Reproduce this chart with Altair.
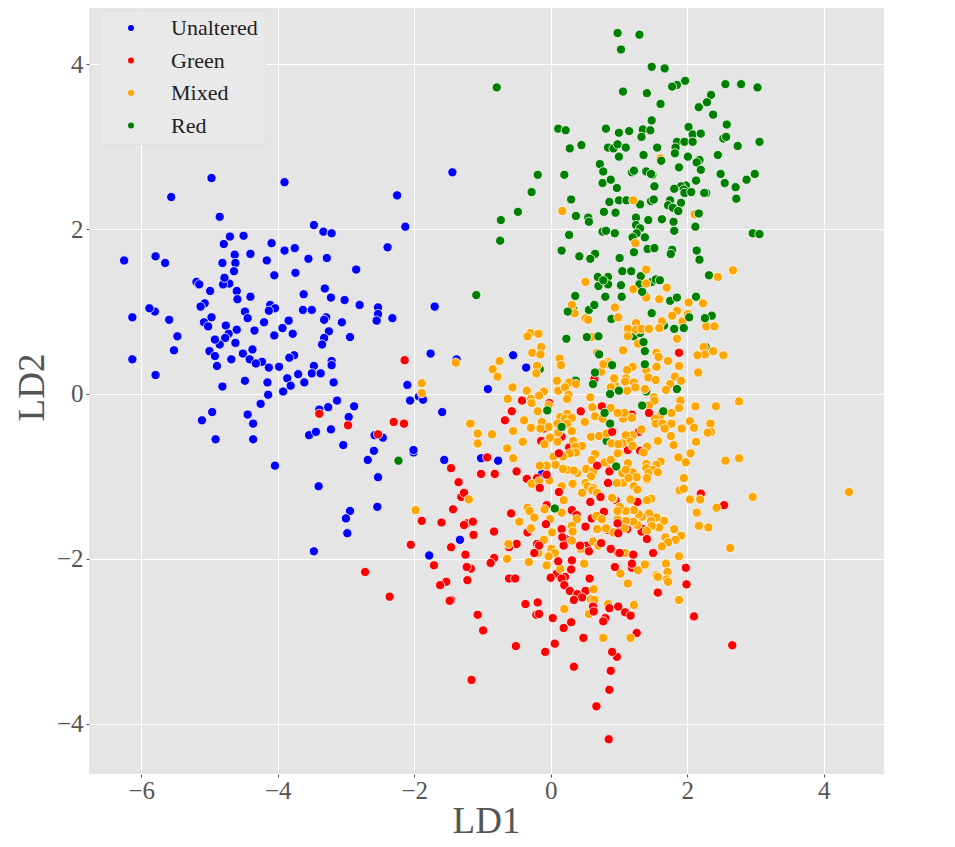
import altair as alt
import pandas as pd

unaltered = [
(-4.97,2.62),(-3.90,2.57),(-5.56,2.39),(-4.85,2.15),(-4.70,1.91),(-4.50,1.92),(-4.79,1.82),(-4.09,1.83),(-3.90,1.74),(-3.75,1.77),
(-6.25,1.62),(-5.79,1.67),(-5.65,1.59),(-4.63,1.69),(-4.40,1.70),(-4.81,1.59),(-4.62,1.59),(-4.16,1.62),(-4.64,1.49),(-4.05,1.44),
(-3.74,1.47),(-4.71,1.34),(-4.80,1.33),(-4.78,1.41),(-5.19,1.36),(-5.15,1.33),(-4.99,1.25),(-4.60,1.25),(-4.59,1.15),(-4.40,1.18),
(-5.07,1.10),(-5.13,1.06),(-4.11,1.08),(-4.04,1.04),(-5.80,1.00),(-5.88,1.04),(-6.13,0.93),(-5.59,0.90),(-5.47,0.70),(-5.52,0.53),
(-6.13,0.42),(-5.79,0.23),(-4.48,1.00),(-4.44,0.92),(-4.13,1.01),(-4.97,0.93),(-5.08,0.87),(-5.02,0.82),(-4.76,0.83),(-4.20,0.87),
(-3.84,0.89),(-3.93,0.80),(-4.60,0.78),(-4.34,0.77),(-4.72,0.73),(-4.77,0.68),(-4.05,0.71),(-3.78,0.73),(-4.85,0.60),(-4.92,0.66),
(-4.62,0.62),(-5.00,0.52),(-4.37,0.54),(-4.92,0.46),(-4.51,0.49),(-4.68,0.42),(-4.41,0.42),(-4.23,0.39),(-4.32,0.37),(-4.89,0.34),
(-4.13,0.32),(-3.98,0.33),(-3.76,0.47),(-3.83,0.44),(-3.70,0.24),(-3.86,0.19),(-3.81,0.10),(-3.92,0.03),(-4.15,0.14),(-4.48,0.16),
(-4.81,0.09),(-4.14,-0.01),(-4.25,-0.12),(-4.96,-0.22),(-5.11,-0.32),(-4.44,-0.25),(-4.36,-0.36),(-4.91,-0.55),(-4.36,-0.55),(-4.04,-0.87),
(-1.44,2.69),(-2.25,2.41),(-3.47,2.05),(-3.33,1.97),(-3.21,1.95),(-2.13,2.03),(-2.39,1.78),(-3.55,1.64),(-3.28,1.65),(-2.85,1.51),
(-3.31,1.28),(-3.62,1.21),(-3.22,1.17),(-3.02,1.14),(-2.80,1.08),(-3.63,1.02),(-3.50,1.02),(-3.29,0.93),(-3.32,0.90),(-3.06,0.87),
(-2.53,1.05),(-2.53,0.97),(-2.55,0.89),(-2.32,0.92),(-1.70,1.06),(-3.25,0.76),(-2.94,0.69),(-3.32,0.68),(-3.35,0.60),(-1.76,0.49),
(-1.38,0.42),(-3.21,0.40),(-3.21,0.35),(-3.47,0.34),(-3.50,0.25),(-3.37,0.25),(-3.61,0.14),(-3.18,0.14),(-2.10,0.11),(-0.92,0.06),
(-2.06,-0.08),(-1.93,-0.03),(-1.87,-0.07),(-3.13,-0.08),(-3.39,-0.19),(-3.26,-0.16),(-2.88,-0.15),(-1.59,-0.22),(-2.96,-0.28),(-3.54,-0.50),
(-3.44,-0.46),(-3.22,-0.43),(-2.58,-0.50),(-2.46,-0.53),(-3.04,-0.62),(-2.59,-0.69),(-2.01,-0.71),(-2.01,-0.68),(-2.68,-0.80),(-1.56,-0.80),
(-1.02,-0.78),(-0.77,-0.81),(-2.53,-1.01),(-3.40,-1.12),(-2.54,-1.37),(-2.94,-1.42),(-3.00,-1.51),(-2.98,-1.69),(-3.47,-1.91),(-1.33,-1.77),
(-1.78,-1.96),(-0.55,0.47),(-0.36,0.32),(-0.13,-0.97),
]

green = [
(-2.14,0.41),(-3.39,-0.24),(-2.97,-0.38),(-2.30,-0.34),(-2.15,-0.36),(-2.53,-0.49),(-0.93,-0.77),(-1.46,-0.90),(-1.02,-0.97),(-0.82,-0.97),
(-1.35,-1.07),(-1.31,-1.25),(-1.27,-1.20),(-1.43,-1.40),(-1.89,-1.54),(-1.60,-1.56),(-1.23,-1.57),(-1.27,-1.59),(-1.14,-1.55),(-1.13,-1.71),
(-0.83,-1.67),(-2.05,-1.83),(-1.46,-1.86),(-1.25,-1.95),(-0.83,-1.99),(-0.88,-2.05),(-1.71,-2.08),(-1.17,-2.12),(-1.23,-2.10),(-2.72,-2.16),
(-1.22,-2.26),(-1.53,-2.28),(-1.62,-2.32),(-2.36,-2.46),(-1.46,-2.50),(-1.48,-2.51),
(0.64,0.18),(-0.42,-0.08),(-0.02,-0.11),(-0.57,-0.21),(-0.67,-0.32),(0.44,-0.21),(0.75,-0.15),(-0.10,-0.42),(0.90,-0.46),(-0.14,-0.57),
(0.16,-0.52),(0.27,-0.65),(0.12,-0.72),(-0.50,-0.94),(-0.35,-1.03),(-0.20,-1.02),(-0.06,-0.98),(-0.16,-1.14),(0.68,-0.87),(0.86,-0.94),
(0.84,-1.08),(1.88,0.50),(1.44,-0.23),(1.19,-0.25),(1.29,-0.46),(1.13,-0.68),(1.31,-0.69),
(0.12,-1.19),(0.58,-1.31),(0.73,-1.25),(-0.06,-1.35),(-0.58,-1.45),(0.31,-1.41),(0.38,-1.47),(0.78,-1.43),(0.95,-1.29),(0.60,-1.51),
(-0.34,-1.68),(-0.07,-1.58),(0.16,-1.64),(0.51,-1.61),(0.84,-1.65),(0.17,-1.74),(0.22,-1.76),(0.99,-1.67),(-0.50,-1.82),(-0.61,-1.86),
(-0.20,-1.82),(-0.17,-1.84),(0.19,-1.84),(0.43,-1.84),(0.74,-1.81),(0.53,-1.84),(0.56,-1.91),(0.88,-1.88),(0.99,-1.93),(-0.24,-1.93),
(0.11,-2.03),(0.31,-2.02),(0.30,-2.13),(0.94,-2.10),(0.09,-2.18),(0.00,-2.23),(0.21,-2.22),(0.16,-2.24),(-0.61,-2.24),(-0.52,-2.24),
(0.57,-2.24),(0.20,-2.32),(0.28,-2.39),(0.51,-2.39),(0.39,-2.43),(0.46,-2.47),(0.34,-2.50),(0.62,-2.58),(0.63,-2.64),(0.86,-2.60),
(0.99,-2.58),(-0.37,-2.55),(-0.19,-2.53),(-0.21,-2.68),(-0.17,-2.67),(0.03,-2.72),(-1.07,-2.68),(0.30,-2.77),(0.19,-2.84),(0.80,-2.72),
(0.77,-2.76),(-0.99,-2.87),(-0.51,-3.06),(-0.08,-3.13),(0.06,-3.03),(0.48,-2.96),(1.26,-2.90),(0.97,-3.19),(0.90,-3.13),(0.34,-3.31),
(0.88,-3.36),(0.86,-3.59),(0.67,-3.79),(0.85,-4.19),(-1.16,-3.47),(2.66,-3.05),
(2.20,-1.21),(2.54,-1.35),(1.27,-1.31),(0.98,-1.57),(1.12,-1.64),(0.99,-1.69),(1.35,-1.64),(1.33,-1.67),(1.41,-1.76),(1.01,-1.93),
(1.21,-1.95),(1.50,-1.93),(1.19,-2.06),(1.19,-2.11),(1.98,-2.11),(1.99,-2.31),(1.57,-2.41),(1.09,-2.65),(1.17,-2.69),(2.10,-2.70),
]

red = [
(0.98,4.38),(1.30,4.36),(1.03,4.18),(1.48,3.97),(1.67,3.95),(1.97,3.80),(1.85,3.75),(1.78,3.73),(-0.79,3.72),(1.06,3.67),
(1.41,3.65),(2.56,3.76),(2.79,3.76),(3.03,3.72),(2.35,3.63),(2.29,3.54),(2.17,3.48),(1.61,3.52),(2.38,3.39),(1.48,3.32),
(2.58,3.27),(2.02,3.24),(0.11,3.22),(0.22,3.20),(0.81,3.22),(1.00,3.17),(1.15,3.19),(1.35,3.21),(1.46,3.20),(1.33,3.12),
(2.08,3.15),(2.20,3.16),(2.53,3.10),(2.57,3.12),(3.06,3.06),(2.74,3.01),(1.85,3.06),(1.96,3.06),(2.08,3.06),(1.83,2.99),
(1.82,2.92),(1.56,2.99),(0.45,3.02),(0.28,2.98),(0.84,2.99),(0.92,2.98),(0.98,3.03),(1.10,2.99),(1.00,2.88),(1.36,2.90),
(2.01,2.88),(2.45,2.90),(2.18,2.84),(2.14,2.81),(1.62,2.83),(0.72,2.79),(1.88,2.75),(2.20,2.72),(1.19,2.69),(1.22,2.71),
(0.77,2.70),(1.40,2.70),(1.49,2.66),(1.47,2.67),(-0.19,2.66),(0.20,2.66),(2.49,2.67),(2.99,2.67),(2.87,2.60),(2.13,2.59),
(2.55,2.56),(0.76,2.56),(0.88,2.60),(2.71,2.51),(1.52,2.52),(0.97,2.50),(1.98,2.53),(1.91,2.52),(1.81,2.49),(1.95,2.48),
(1.96,2.44),(2.06,2.45),(2.28,2.44),(2.25,2.44),(-0.28,2.45),(2.72,2.37),(0.30,2.36),(0.86,2.33),(1.00,2.35),(1.11,2.35),
(1.31,2.30),(1.47,2.34),(1.51,2.36),(1.75,2.35),(1.72,2.29),(1.91,2.32),(1.79,2.26),(1.87,2.22),(-0.48,2.21),(0.78,2.21),
(0.95,2.20),(2.17,2.19),(-0.73,2.11),(0.37,2.16),(0.55,2.14),(0.56,2.09),(1.25,2.14),(1.43,2.11),(1.63,2.12),(1.80,2.09),
(1.81,1.98),(2.12,2.03),(1.25,2.05),(1.31,2.01),(1.26,1.95),(1.20,1.90),(1.38,1.90),(0.94,1.95),(0.76,1.97),(0.81,1.98),
(0.27,1.93),(2.96,1.95),(3.06,1.94),(0.16,1.74),(0.42,1.67),(0.65,1.70),(0.58,1.64),(1.01,1.65),(1.22,1.72),(1.42,1.76),
(1.52,1.77),(1.78,1.75),(1.76,1.70),(2.14,1.74),(2.18,1.63),(1.05,1.49),(1.18,1.49),(2.32,1.44),(1.32,1.43),(0.69,1.42),
(0.84,1.42),(0.70,1.31),(0.84,1.33),(0.77,1.38),(1.03,1.32),(1.30,1.33),(1.48,1.36),(1.54,1.39),(1.60,1.38),(1.34,1.24),
(1.39,1.19),(0.36,1.19),(0.80,1.18),(1.04,1.18),(1.85,1.17),(1.75,1.13),(2.13,1.18),(0.64,1.08),(0.56,1.02),(0.33,1.03),
(0.25,1.00),(1.48,0.98),(2.03,0.93),(2.36,0.95),(2.26,0.92),(0.89,0.91),(1.66,0.83),(1.81,0.79),(1.95,0.80),(0.23,0.67),
(0.53,0.69),(0.70,0.70),(1.22,0.70),(1.31,0.74),(1.36,0.63),(1.38,0.52),(0.71,0.48),(2.27,0.57),(0.90,0.35),(1.38,0.36),
(0.66,0.25),(-0.16,0.30),(0.36,0.17),(0.65,0.26),(0.37,0.16),(0.62,0.12),(0.87,0.00),(1.00,0.04),(-0.05,-0.20),(0.79,-0.23),
(0.87,-0.36),(0.16,-0.40),(0.82,-0.57),(0.96,-0.88),(1.85,0.06),(1.34,-0.14),(1.65,-0.21),(1.40,0.03),(0.06,-1.39),(-2.23,-0.81),
(-1.09,1.20),(-0.74,1.86),
]

mixed = [
(2.96,-1.25),(4.37,-1.19),(1.89,-1.17),(1.95,-1.15),(2.04,-1.28),(2.19,-1.28),(2.43,-1.38),(2.14,-1.44),(2.17,-1.60),(2.31,-1.62),
(2.63,-1.87),(1.81,-1.64),(1.91,-1.72),(1.83,-1.77),(1.68,-1.74),(1.72,-1.80),(1.63,-1.85),(1.88,-1.97),(1.69,-2.06),(1.71,-2.16),
(1.55,-2.20),(1.57,-2.22),(1.70,-2.25),(1.72,-2.28),(1.38,-2.07),(1.28,-2.14),(1.02,-2.18),(1.13,-2.30),(1.88,-2.50),(1.22,-2.56),
(1.09,-1.93),(1.66,-1.54),(1.59,-1.62),(1.55,-1.50),(1.44,-1.45),(1.47,-1.54),(1.48,-1.60),(1.34,-1.49),(1.29,-1.46),(1.22,-1.41),
(1.27,-1.59),(1.21,-1.55),(1.10,-1.54),(1.08,-1.63),(1.10,-1.42),(1.01,-1.37),(0.97,-1.42),(1.41,-1.66),(0.93,-1.68),(0.98,-1.52),
(1.17,-1.28),(1.47,-1.27),(1.41,-1.29),(0.91,-1.27),(1.22,-1.12),(1.27,-1.16),(0.98,-1.08),(1.06,-1.08),(1.41,-1.04),
(1.06,0.53),(1.55,0.50),(1.58,0.45),(2.24,0.57),(2.26,0.48),(2.15,0.47),(2.38,0.52),(2.53,0.47),(1.72,0.40),(1.88,0.34),
(2.16,0.26),(1.20,0.33),(1.12,0.29),(1.55,0.33),(1.40,0.29),(1.43,0.20),(1.54,0.17),(1.82,0.21),(1.91,0.16),(1.75,0.12),
(1.69,0.05),(1.10,0.19),(1.09,0.15),(1.22,0.14),(1.24,0.08),(0.92,0.19),(0.94,0.11),(0.89,0.09),(1.12,0.04),(1.38,0.06),
(1.51,-0.04),(1.52,-0.08),(1.44,-0.14),(1.90,-0.08),(1.88,-0.17),(2.12,-0.15),(2.42,-0.15),(2.76,-0.09),(1.77,-0.23),(1.60,-0.27),
(1.53,-0.30),(1.54,-0.36),(1.64,-0.36),(1.77,-0.36),(1.67,-0.42),(1.92,-0.42),(2.04,-0.33),(2.10,-0.41),(2.34,-0.36),(2.35,-0.46),
(2.30,-0.47),(1.76,-0.51),(1.57,-0.57),(1.80,-0.62),(2.13,-0.58),(1.41,-0.64),(1.33,-0.43),(1.20,-0.50),(1.10,-0.50),(1.16,-0.58),
(1.20,-0.63),(1.05,-0.60),(0.89,-0.60),(1.00,-0.72),(1.36,-0.71),(1.19,-0.29),(1.06,-0.30),(0.99,-0.23),(1.08,-0.23),(0.88,-0.17),
(2.05,-0.72),(1.87,-0.77),(1.98,-0.83),(2.56,-0.81),(2.76,-0.78),(1.95,-1.02),(1.61,-0.82),(1.55,-0.86),(1.40,-0.85),(1.40,-0.90),
(1.50,-0.92),(1.57,-0.95),(1.43,-0.96),(1.41,-1.02),(1.13,-0.84),(1.20,-0.95),(1.05,-0.96),(1.10,-0.92),(1.26,-1.01),(1.14,-1.02),
(0.87,-0.82),
(-0.14,0.57),(-0.27,0.50),(-0.15,0.48),(0.13,0.43),(0.15,0.35),(-0.75,0.40),(-0.85,0.30),(-0.78,0.21),(-0.20,0.34),(-0.21,0.25),
(-0.56,0.08),(-0.35,0.04),(-0.63,-0.06),(-0.10,0.03),(-0.17,-0.02),(-0.29,-0.06),(-0.28,-0.11),(-0.03,-0.14),(-0.19,-0.21),(0.09,0.16),
(0.11,0.04),(0.27,0.14),(0.21,0.08),(0.37,0.12),(0.26,-0.01),(0.24,-0.06),(0.58,-0.04),(0.84,0.39),(0.83,0.36),(0.74,0.27),
(0.68,0.50),(0.93,0.19),(0.88,0.08),(0.61,-0.16),(0.65,-0.27),(0.76,-0.30),(0.98,-0.23),(0.50,-0.34),(0.24,-0.24),(0.14,-0.28),
(0.21,-0.30),(0.31,-0.29),(0.10,-0.36),(0.24,-0.36),(-0.39,-0.32),(-0.13,-0.34),(-0.03,-0.40),(-0.29,-0.41),(-0.15,-0.42),(-1.16,-0.36),
(-0.55,-0.45),(-1.06,-0.48),(-0.86,-0.49),(-1.07,-0.61),(-0.41,-0.58),(0.31,-0.45),(0.11,-0.47),(-0.01,-0.53),(0.10,-0.58),(-0.09,-0.61),
(0.33,-0.57),(0.59,-0.52),(0.46,-0.63),(0.71,-0.51),(0.82,-0.48),(0.36,-0.64),(0.37,-0.71),(0.28,-0.72),(-0.64,-0.66),(-0.55,-0.78),
(0.65,-0.73),(0.60,-0.80),(0.18,-0.76),(0.04,-0.76),(0.07,-0.86),(-0.06,-0.87),(-0.16,-0.87),(0.24,-0.92),(0.18,-0.91),(0.39,-0.96),
(0.34,-0.93),(0.52,-0.91),(0.62,-0.94),(0.59,-1.00),(0.82,-0.84),(0.79,-0.83),(0.88,-0.80),(0.98,-0.72),(0.99,-0.61),(-0.02,-1.05),
(-0.28,-1.09),(-0.17,-1.06),(0.16,-1.12),(0.32,-1.09),(0.51,-1.08),(0.54,-1.12),(0.97,-1.08),(0.62,-1.14),
(0.46,-1.20),(0.61,-1.17),(0.68,-1.20),(0.19,-1.29),(0.90,-1.26),(-0.34,-1.38),(-0.31,-1.42),(-0.09,-1.40),(-0.24,-1.50),(-0.46,-1.55),
(0.16,-1.44),(-0.01,-1.52),(0.38,-1.52),(0.67,-1.48),(0.75,-1.52),(0.98,-1.42),(0.31,-1.60),(-0.29,-1.63),(0.02,-1.68),(0.32,-1.67),
(0.68,-1.64),(0.81,-1.63),(0.92,-1.68),(-0.10,-1.77),(-0.62,-1.82),(0.31,-1.78),(0.62,-1.79),(0.70,-1.84),(0.44,-1.88),(0.01,-1.88),
(0.06,-1.93),(-0.03,-1.97),(-0.18,-1.93),(-0.64,-2.00),(-0.32,-2.04),(-0.06,-2.08),(0.49,-2.06),(0.14,-2.12),(0.63,-2.37),(0.59,-2.49),
(0.64,-2.50),(0.84,-2.55),(0.56,-2.67),(0.20,-2.61),(0.77,-2.96),(1.17,-2.96),
(-1.39,0.38),(-1.89,0.13),(-1.89,0.01),(-1.18,-0.36),(-1.07,-0.48),(-1.07,-0.60),(-1.20,-1.28),(-1.98,-1.41),
(0.17,2.22),(2.11,2.18),(1.24,1.83),(1.40,1.51),(2.67,1.50),(2.45,1.42),(0.51,1.36),(1.40,1.34),(1.21,1.27),(1.70,1.29),
(1.59,1.15),(1.40,1.17),(2.02,1.11),(2.23,1.10),(0.31,1.08),(0.94,1.05),(0.35,0.98),(1.85,1.01),(1.78,0.95),(2.01,0.97),
(0.99,0.93),(0.51,0.92),(0.55,0.90),(1.63,0.88),(1.93,0.88),(1.25,0.86),(1.13,0.79),(1.25,0.78),(1.33,0.79),(1.44,0.79),
(1.59,0.80),(2.28,0.82),(2.40,0.82),(1.13,0.70),(1.85,0.67),(0.60,0.69),(1.28,0.61),(-0.30,0.74),(-0.34,0.70),
(-0.18,0.73),(0.77,0.36),(1.61,2.86),(1.21,2.35),
]

# points that sit above the orange ones in the reference's drawing order
green_on_top = [
(0.64,0.18),(1.44,-0.23),(0.90,-0.46),(0.12,-0.72),(-0.06,-0.98),(-0.16,-1.14),(0.68,-0.87),(0.86,-0.94),(0.84,-1.08),
(0.12,-1.19),(0.58,-1.31),(0.73,-1.25),(-0.07,-1.58),(0.16,-1.64),(0.51,-1.61),(0.17,-1.74),(0.74,-1.81),(0.43,-1.84),
(0.56,-1.91),(0.88,-1.88),(0.19,-1.84),(-0.17,-1.84),(-0.24,-1.93),(0.11,-2.03),(0.31,-2.02),(0.94,-2.10),(0.30,-2.13),
(0.62,-2.58),(0.63,-2.64),(0.86,-2.60),(0.99,-2.58),(0.98,-1.57),(0.99,-1.69),(1.41,-1.76),(1.01,-1.93),(1.21,-1.95),
(1.50,-1.93),(1.19,-2.06),
]
red_on_top = [
(-0.05,-0.20),(0.79,-0.23),(0.87,-0.36),(0.16,-0.40),(0.96,-0.88),(1.85,0.06),(1.34,-0.14),(1.65,-0.21),(0.87,0.00),
(0.62,0.12),(0.65,0.26),(0.70,0.70),(0.71,0.48),(1.38,0.52),(1.36,0.63),(1.38,0.36),(0.90,0.35),(0.23,0.67),(0.53,0.69),
(0.06,-1.39),(1.00,0.04),(1.34,1.24),(0.25,1.00),(0.56,1.02),(0.64,1.08),(2.03,0.93),(2.26,0.92),(1.75,1.13),(1.85,1.17),
(2.13,1.18),(1.81,0.79),(1.95,0.80),(2.17,2.19),(1.62,2.83),
]

x_ticks = [-6, -4, -2, 0, 2, 4]
y_ticks = [-4, -2, 0, 2, 4]
names = ["Unaltered", "Green", "Mixed", "Red"]
colors = ["#0000ff", "#ff0000", "#ffa500", "#008000"]

rows = []
series = [("Unaltered", unaltered),
          ("Green", [p for p in green if p not in green_on_top]),
          ("Red", [p for p in red if p not in red_on_top]),
          ("Mixed", mixed),
          ("Green", green_on_top),
          ("Red", red_on_top)]
for name, pts in series:
    rows += [{"LD1": a, "LD2": b, "group": name} for a, b in pts]
df = pd.DataFrame(rows)

serif = "Liberation Serif"
chart = (
    alt.Chart(df)
    .mark_circle(size=85, opacity=1, stroke="white", strokeWidth=0.8)
    .encode(
        x=alt.X("LD1:Q", scale=alt.Scale(domain=[-6.765, 4.884], nice=False, zero=False),
                axis=alt.Axis(values=x_ticks, title="LD1", titleFontSize=37, titleY=29,
                              titleX=397, titleFontWeight="normal", labelPadding=1)),
        y=alt.Y("LD2:Q", scale=alt.Scale(domain=[-4.612, 4.684], nice=False, zero=False),
                axis=alt.Axis(values=y_ticks, title="LD2", titleFontSize=37, titleX=-38,
                              titleY=379, titleFontWeight="normal", labelPadding=3)),
        color=alt.Color("group:N",
                        scale=alt.Scale(domain=names, range=colors),
                        sort=names,
                        legend=alt.Legend(title=None, orient="none", legendX=11, legendY=2,
                                          symbolType="circle", symbolSize=36, symbolStrokeWidth=0,
                                          symbolOpacity=1, labelFont=serif, labelFontSize=22,
                                          labelColor="#222222", labelOffset=29, rowPadding=10.5,
                                          symbolOffset=13, padding=7, fillColor="#e9e9e9",
                                          strokeColor="#dfdfdf", cornerRadius=4,
                                          labelLimit=200)),
    )
    .properties(width=795, height=766,
                padding={"left": 81, "top": 0, "right": 10, "bottom": 65},
                autosize=alt.AutoSizeParams(type="none"),
                background="white")
    .configure_view(fill="#e5e5e5", stroke=None)
    .configure_axis(grid=True, gridColor="white", gridWidth=1, gridOpacity=1, domain=False,
                    ticks=True, tickColor="#555555", tickSize=3, tickWidth=1,
                    labelFont=serif, labelFontSize=25, labelColor="#555555",
                    titleFont=serif, titleColor="#555555")
)
chart.save("out.html", embed_options={"renderer": "svg", "actions": False})
